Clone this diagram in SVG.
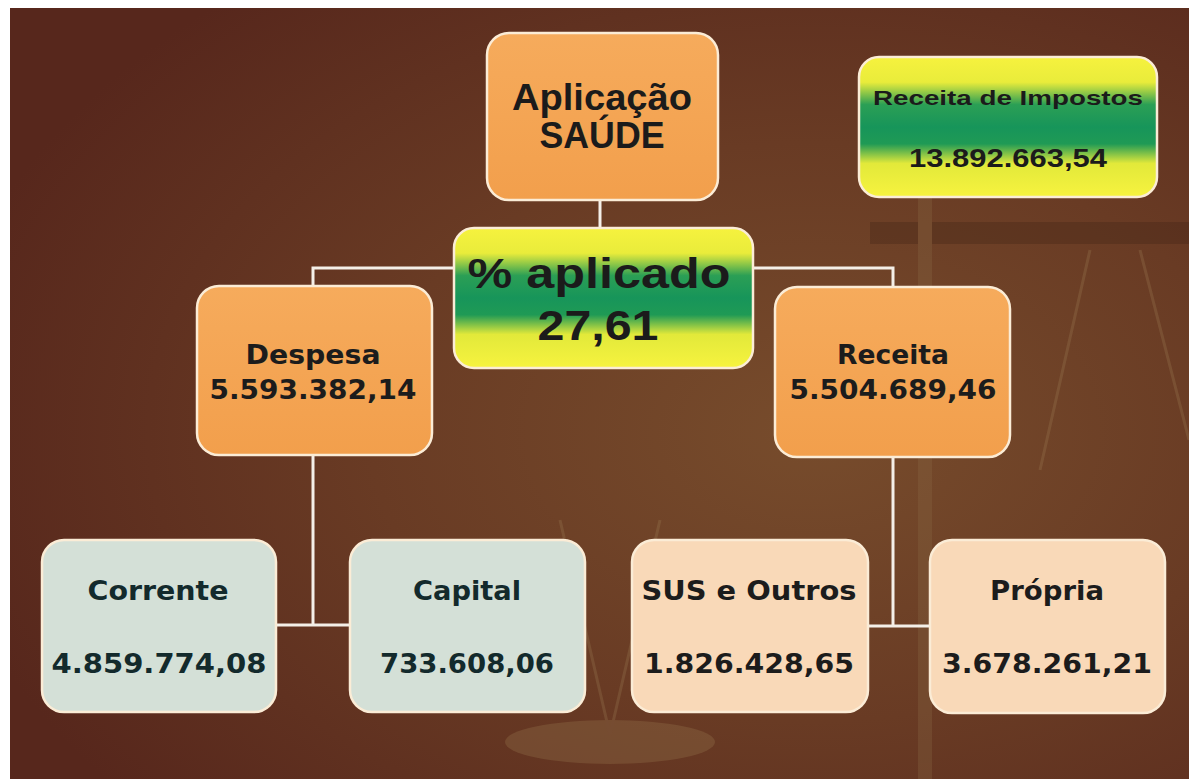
<svg xmlns="http://www.w3.org/2000/svg" width="1189" height="779" viewBox="0 0 1189 779">
<defs>
<radialGradient id="bg" cx="0.68" cy="0.55" r="0.75">
<stop offset="0" stop-color="#774c2c"/>
<stop offset="0.5" stop-color="#693b24"/>
<stop offset="1" stop-color="#57271c"/>
</radialGradient>
<linearGradient id="yg" x1="0" y1="0" x2="0" y2="1">
<stop offset="0" stop-color="#f6f23e"/>
<stop offset="0.18" stop-color="#e9ec3b"/>
<stop offset="0.34" stop-color="#2b9f55"/>
<stop offset="0.5" stop-color="#17955a"/>
<stop offset="0.62" stop-color="#1f9a55"/>
<stop offset="0.76" stop-color="#e2e93a"/>
<stop offset="1" stop-color="#f7f33f"/>
</linearGradient>
<linearGradient id="orange" x1="0" y1="0" x2="0" y2="1">
<stop offset="0" stop-color="#f6ab5c"/>
<stop offset="1" stop-color="#f29f4c"/>
</linearGradient>
</defs>
<style>
.box{stroke:#fbecd6;stroke-width:2.5}
.org{fill:url(#orange)}
.gy{fill:#d4e0d7}
.pc{fill:#f9d9b8}
.grad{fill:url(#yg)}
.arial{font-family:"Liberation Sans",Arial,sans-serif;font-weight:bold;fill:#1b1b1b;text-anchor:middle}
.verd{font-family:"DejaVu Sans",Verdana,sans-serif;font-weight:bold;fill:#1c1c1c;text-anchor:middle;font-size:27px}
.teal{fill:#132a2c}
.conn{stroke:#f4efe8;stroke-width:3;fill:none}
</style>
<rect x="0" y="0" width="1189" height="779" fill="#ffffff"/>
<rect x="10" y="8" width="1179" height="771" fill="url(#bg)"/>
<g opacity="0.3">
<rect x="870" y="222" width="319" height="22" fill="#3e2214"/>
<rect x="918" y="100" width="14" height="679" fill="#8a6a45"/>
<ellipse cx="610" cy="742" rx="105" ry="22" fill="#9a7a50"/>
<path d="M1090 250 L1040 470 M1140 250 L1189 440 M560 520 L610 735 M660 520 L610 735" stroke="#9a7a52" stroke-width="3" fill="none"/>
</g>
<g id="connectors">
<path class="conn" d="M600 200 V230"/>
<path class="conn" d="M313 287 V268 H893 V288"/>
<path class="conn" d="M313 455 V625"/>
<path class="conn" d="M275 625 H351"/>
<path class="conn" d="M893 457 V626"/>
<path class="conn" d="M867 626 H932"/>
</g>
<g id="aplicacao">
<rect class="box org" x="487" y="33" width="231" height="167" rx="22"/>
<text class="arial" x="602" y="110" font-size="36" textLength="180" lengthAdjust="spacingAndGlyphs">Aplicação</text>
<text class="arial" x="602" y="148" font-size="36" textLength="125" lengthAdjust="spacingAndGlyphs">SAÚDE</text>
</g>
<g id="receita-impostos">
<rect class="box grad" x="859" y="57" width="298" height="140" rx="20"/>
<text class="arial" x="1008" y="105" font-size="21" textLength="270" lengthAdjust="spacingAndGlyphs" style="font-weight:600">Receita de  Impostos</text>
<text class="arial" x="1008" y="167" font-size="26" textLength="198" lengthAdjust="spacingAndGlyphs" style="font-weight:600">13.892.663,54</text>
</g>
<g id="percentual">
<rect class="box grad" x="454" y="228" width="299" height="140" rx="20"/>
<text class="arial" x="599" y="288" font-size="42" textLength="263" lengthAdjust="spacingAndGlyphs">% aplicado</text>
<text class="arial" x="598" y="340" font-size="42" textLength="121" lengthAdjust="spacingAndGlyphs">27,61</text>
</g>
<g id="despesa">
<rect class="box org" x="197" y="286" width="235" height="169" rx="22"/>
<text class="verd" x="313" y="364" textLength="135" lengthAdjust="spacingAndGlyphs">Despesa</text>
<text class="verd" x="313" y="399" textLength="207" lengthAdjust="spacingAndGlyphs">5.593.382,14</text>
</g>
<g id="receita">
<rect class="box org" x="775" y="287" width="235" height="170" rx="22"/>
<text class="verd" x="893" y="364" textLength="112" lengthAdjust="spacingAndGlyphs">Receita</text>
<text class="verd" x="893" y="399" textLength="207" lengthAdjust="spacingAndGlyphs">5.504.689,46</text>
</g>
<g id="corrente">
<rect class="box gy" x="42" y="540" width="234" height="172" rx="22"/>
<text class="verd teal" x="158" y="600" textLength="141" lengthAdjust="spacingAndGlyphs">Corrente</text>
<text class="verd teal" x="159" y="673" textLength="215" lengthAdjust="spacingAndGlyphs">4.859.774,08</text>
</g>
<g id="capital">
<rect class="box gy" x="350" y="540" width="235" height="172" rx="22"/>
<text class="verd teal" x="467" y="600" textLength="108" lengthAdjust="spacingAndGlyphs">Capital</text>
<text class="verd teal" x="467" y="673" textLength="174" lengthAdjust="spacingAndGlyphs">733.608,06</text>
</g>
<g id="sus">
<rect class="box pc" x="632" y="540" width="236" height="172" rx="22"/>
<text class="verd" x="749" y="600" textLength="215" lengthAdjust="spacingAndGlyphs">SUS  e Outros</text>
<text class="verd" x="749" y="673" textLength="210" lengthAdjust="spacingAndGlyphs">1.826.428,65</text>
</g>
<g id="propria">
<rect class="box pc" x="930" y="540" width="235" height="173" rx="22"/>
<text class="verd" x="1047" y="600" textLength="114" lengthAdjust="spacingAndGlyphs">Própria</text>
<text class="verd" x="1047" y="673" textLength="210" lengthAdjust="spacingAndGlyphs">3.678.261,21</text>
</g>
</svg>
